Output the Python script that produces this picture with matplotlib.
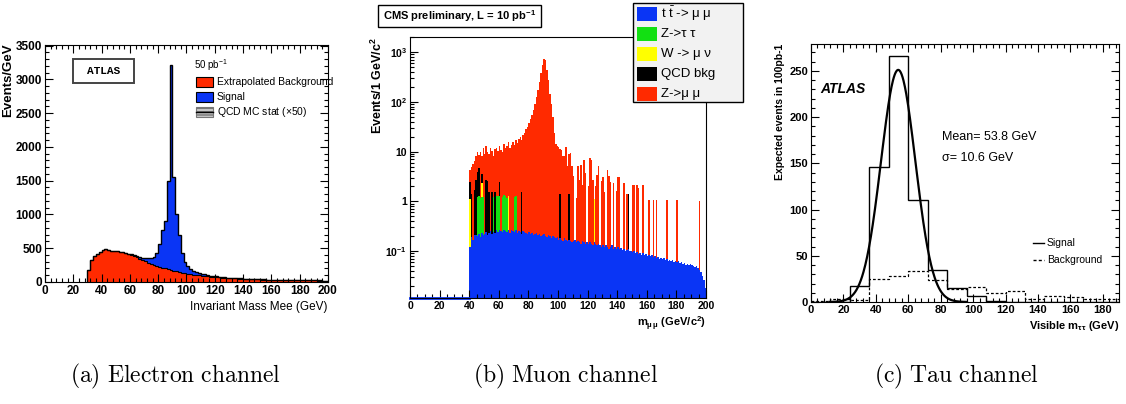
import numpy as np
import matplotlib
matplotlib.use('Agg')
import matplotlib.pyplot as plt
from matplotlib.ticker import MultipleLocator, LogLocator, NullFormatter
from matplotlib.patches import Rectangle
from matplotlib.lines import Line2D

plt.rcParams['font.family'] = ['Liberation Sans', 'DejaVu Sans']
plt.rcParams['mathtext.fontset'] = 'custom'
plt.rcParams['mathtext.rm'] = 'Liberation Sans'
plt.rcParams['mathtext.it'] = 'Liberation Sans:italic'
plt.rcParams['mathtext.bf'] = 'Liberation Sans:bold'

# ---------------- data : (a) electron channel, 2 GeV bins from 30 GeV ----------------
a_bin_start = 30
a_bin_width = 2
bkg_a = [
    180, 330, 385, 420, 445, 470, 485, 470, 465, 458,
    452, 445, 438, 428, 415, 400, 385, 365, 345, 325,
    305, 288, 270, 255, 240, 226, 212, 200, 188, 177,
    167, 157, 148, 139, 131, 124, 117, 110, 104, 98,
    92, 87, 82, 78, 74, 70, 67, 64, 61, 58,
    56, 54, 52, 50, 48, 46, 44, 43, 41, 40,
    38, 37, 36, 35, 34, 33, 32, 31, 30, 29,
    28, 28, 27, 26, 26, 25, 25, 24, 24, 23,
    23, 22, 22, 21, 20]
sig_a = [
    0, 0, 0, 0, 0, 0, 0, 0, 0, 0,
    0, 0, 0, 0, 0, 8, 14, 20, 26, 34,
    45, 62, 85, 120, 190, 334, 560, 700, 1312, 3043,
    1383, 850, 552, 291, 169, 106, 73, 55, 44, 36,
    30, 25, 21, 18, 15, 13, 11, 10, 9, 8,
    7, 6, 6, 5, 5, 4, 4, 4, 3, 3,
    3, 3, 2, 2, 2, 2, 2, 2, 1, 1,
    1, 1, 1, 1, 1, 1, 1, 1, 1, 1,
    1, 1, 1, 1, 1]

# ---------------- data : (b) muon channel, 1 GeV bins 40..199 ----------------
b_bin_start = 40
ttbar_b = [
    0.12, 0.19, 0.17, 0.21, 0.21, 0.20, 0.22, 0.19, 0.23, 0.21,
    0.22, 0.24, 0.21, 0.23, 0.25, 0.22, 0.24, 0.23, 0.26, 0.24,
    0.27, 0.25, 0.24, 0.26, 0.25, 0.24, 0.26, 0.23, 0.27, 0.25,
    0.24, 0.26, 0.23, 0.25, 0.24, 0.22, 0.25, 0.24, 0.23, 0.22,
    0.24, 0.22, 0.23, 0.21, 0.22, 0.23, 0.21, 0.22, 0.20, 0.21,
    0.22, 0.20, 0.19, 0.21, 0.20, 0.18, 0.20, 0.19, 0.18, 0.19,
    0.17, 0.18, 0.17, 0.16, 0.18, 0.17, 0.16, 0.17, 0.16, 0.15,
    0.16, 0.17, 0.15, 0.16, 0.15, 0.14, 0.16, 0.15, 0.14, 0.15,
    0.14, 0.15, 0.14, 0.13, 0.15, 0.14, 0.13, 0.14, 0.13, 0.12,
    0.13, 0.12, 0.13, 0.12, 0.11, 0.12, 0.13, 0.11, 0.12, 0.11,
    0.12, 0.11, 0.115, 0.105, 0.11, 0.10, 0.105, 0.11, 0.098, 0.10,
    0.095, 0.10, 0.09, 0.095, 0.088, 0.092, 0.085, 0.09, 0.082, 0.086,
    0.08, 0.084, 0.078, 0.082, 0.075, 0.079, 0.072, 0.076, 0.07, 0.074,
    0.068, 0.072, 0.066, 0.07, 0.064, 0.067, 0.062, 0.066, 0.06, 0.063,
    0.06, 0.062, 0.057, 0.06, 0.055, 0.058, 0.053, 0.056, 0.052, 0.054,
    0.052, 0.05, 0.048, 0.05, 0.046, 0.042, 0.038, 0.032, 0.026, 0.018]
ztt_bins = [45, 46, 47, 48, 49, 56, 58, 59, 60, 62, 63, 64, 65, 70, 71]
ztt_vals = [1.0, 1.05, 0.95, 1.0, 1.0, 1.0, 1.0, 1.05, 1.0, 1.0, 1.05, 1.0, 0.95, 1.0, 1.0]
wmn_bins = [40, 48, 66, 124]
wmn_vals = [1.0, 1.05, 1.0, 0.95]
qcd_bins = [40, 41, 43, 44, 45, 46, 48, 51, 52, 53, 55, 57, 60, 75, 101, 107, 147]
qcd_vals = [1.3, 1.2, 1.5, 2.5, 2.7, 3.3, 1.2, 2.4, 2.3, 1.3, 1.3, 1.3, 1.2, 1.3, 1.25, 1.25, 1.3]
zmm_low = [
    1.8, 3.6, 5.5, 4.8, 5.3, 6.1, 4.0, 8.5, 4.5, 10.5,
    8.5, 10.4, 7.5, 7.5, 11.5, 8.5, 7.0, 9.5, 10.5, 9.0,
    10.6, 10.5, 8.5, 13, 10.5, 12, 14, 11.5, 13.5, 15.5,
    12, 16, 14.5, 17.5, 19.5, 15.5, 21.5, 23.5, 27.5, 31.5,
    37.5, 44.5, 54.5, 69.5, 90, 125, 175, 250, 370, 540,
    730, 680, 430, 270, 145, 92, 50, 23, 14, 13,
    12, 10, 10.5, 8, 7.8, 12, 4.9, 7.5, 9, 5]
zmm_hi_bins = [110, 112, 113, 114, 115, 116, 117, 118, 120, 121, 122, 123, 125, 126, 127,
               129, 130, 131, 133, 134, 135, 137, 139, 140, 141, 144, 146, 150, 151, 153,
               154, 157, 161, 164, 166, 173, 180, 195]
zmm_hi_vals = [3.0, 1.0, 4.9, 2.5, 5.3, 2.0, 6.7, 3.6, 1.9, 7.2, 6.7, 2.5, 1.9, 3.3, 4.9,
               2.4, 3.0, 1.4, 4.2, 3.1, 2.3, 2.2, 1.5, 3.0, 2.9, 2.2, 1.3, 2.0, 2.0, 2.0,
               1.8, 2.0, 1.0, 1.0, 1.0, 1.0, 1.0, 0.95]
b_labels = ['t $\\bar{\\mathrm{t}}$ -> μ μ', 'Z->τ τ', 'W -> μ ν', 'QCD bkg', 'Z->μ μ']

# ---------------- data : (c) tau channel, 12 GeV bins from 0 ----------------
c_bin_width = 12
sig_c = [0, 0.5, 17, 146, 266, 110, 35, 15, 7, 1, 0.5, 0.5, 0.3, 0.3, 0.2, 0.2]
bkg_c = [1, 3, 2, 25, 28, 33, 24, 14, 16, 10, 12, 3, 7, 5.5, 3.5, 3]
fit_mean, fit_sigma, fit_amp = 53.8, 10.6, 251.0

# ---------------- style ----------------
RED = '#ff2a00'
BLUE = '#0a35f5'
GREEN = '#12e012'
YELLOW = '#ffff00'
W, H = 1126, 404
fig = plt.figure(figsize=(W / 100, H / 100), dpi=100)


def add_ax(l, t, r, b):
    return fig.add_axes([l / W, 1 - b / H, (r - l) / W, (b - t) / H])


def fx(x):
    return x / W


def fy(y):
    return 1 - y / H


def style_ticks(ax, size, four=True, pad=2.5):
    ax.tick_params(which='both', direction='in', top=four, right=four, width=0.8, pad=pad)
    ax.tick_params(which='major', length=6)
    ax.tick_params(which='minor', length=3)
    for lab in ax.get_xticklabels() + ax.get_yticklabels():
        lab.set_fontweight('bold')
        lab.set_fontsize(size)


# ================= (a) =================
ax = add_ax(45, 45, 328, 282)
bkg = np.array(bkg_a, float)
sig = np.array(sig_a, float)
edges = a_bin_start + a_bin_width * np.arange(len(bkg) + 1)
tot = bkg + sig
ax.stairs(bkg, edges, baseline=0, fill=True, color=RED, lw=0)
ax.stairs(tot, edges, baseline=bkg, fill=True, color=BLUE, lw=0)
ax.stairs(bkg, edges, baseline=None, color='k', lw=0.8)
ax.stairs(tot, edges, baseline=0, color='k', lw=1.0)
ax.set_xlim(0, 200)
ax.set_ylim(0, 3510)
ax.set_xticks(np.arange(0, 201, 20))
ax.set_yticks(np.arange(0, 3501, 500))
ax.xaxis.set_minor_locator(MultipleLocator(4))
ax.yaxis.set_minor_locator(MultipleLocator(100))
style_ticks(ax, 8.5, pad=2)
ax.set_ylabel('Events/GeV', loc='top', fontsize=9.5, fontweight='bold')
ax.yaxis.set_label_coords(-0.108, 1.008)
ax.set_xlabel('Invariant Mass Mee (GeV)', loc='right', fontsize=8.5)
ax.xaxis.set_label_coords(1.0, -0.08)

fig.add_artist(Rectangle((fx(73), fy(83)), 61 / W, 24 / H, transform=fig.transFigure,
                         fc='white', ec='#444444', lw=1.4))
fig.text(fx(103.5), fy(71), 'ATLAS', family='Liberation Mono', fontweight='bold',
         fontsize=8, ha='center', va='center')
fig.text(fx(194), fy(65), '50 pb$^{-1}$', fontsize=7, ha='left', va='center')
leg_a = [('Extrapolated Background', RED, None), ('Signal', BLUE, None),
         ('QCD MC stat ($\\times$50)', '#c8c8c8', '-----')]
for i, (lab, col, hatch) in enumerate(leg_a):
    yc = 82 + 15 * i
    fig.add_artist(Rectangle((fx(196), fy(yc + 5)), 17 / W, 10 / H, transform=fig.transFigure,
                             fc=col, ec='k' if hatch is None else '#777777', lw=0.8,
                             hatch=hatch))
    if hatch is not None:
        fig.add_artist(Line2D([fx(196), fx(213)], [fy(yc), fy(yc)], color='k', lw=1,
                              transform=fig.transFigure))
    fig.text(fx(217), fy(yc), lab, fontsize=7.5, ha='left', va='center')

# ================= (b) =================
ax = add_ax(410, 37, 706, 298)
n = len(ttbar_b)
edges = b_bin_start + np.arange(n + 1)


def sparse(bins, vals):
    arr = np.zeros(n)
    arr[np.array(bins) - b_bin_start] = vals
    return arr


ttb = np.array(ttbar_b)
ztt = sparse(ztt_bins, ztt_vals)
wmn = sparse(wmn_bins, wmn_vals)
qcd = sparse(qcd_bins, qcd_vals)
zmm = sparse(zmm_hi_bins, zmm_hi_vals)
zmm[:len(zmm_low)] = zmm_low
ylo, yhi = 0.0114, 2000
c1 = ttb
c2 = c1 + ztt
c3 = c2 + wmn
c4 = c3 + qcd
c5 = c4 + zmm
ax.set_yscale('log')
ax.stairs(c5, edges, baseline=c4, fill=True, color=RED, lw=0)
ax.stairs(c4, edges, baseline=c3, fill=True, color='k', lw=0)
ax.stairs(c3, edges, baseline=c2, fill=True, color=YELLOW, lw=0)
ax.stairs(c2, edges, baseline=c1, fill=True, color=GREEN, lw=0)
ax.stairs(c1, edges, baseline=1e-3, fill=True, color=BLUE, lw=0)
ax.plot([0, edges[0]], [ylo, ylo], color=BLUE, lw=2, clip_on=False)
ax.set_xlim(0, 200)
ax.set_ylim(ylo, yhi)
ax.set_xticks(np.arange(0, 201, 20))
ax.xaxis.set_minor_locator(MultipleLocator(5))
ax.set_yticks([0.1, 1, 10, 100, 1000])
ax.set_yticklabels(['$\\mathbf{10^{-1}}$', '1', '10', '$\\mathbf{10^{2}}$', '$\\mathbf{10^{3}}$'])
ax.yaxis.set_minor_locator(LogLocator(base=10, subs=np.arange(2, 10), numticks=20))
ax.yaxis.set_minor_formatter(NullFormatter())
style_ticks(ax, 7.5, four=False, pad=2)
for lab in ax.get_yticklabels():
    lab.set_fontsize(7.5)
ax.set_ylabel('Events/1 GeV/c$^{\\mathbf{2}}$', loc='top', fontsize=9, fontweight='bold')
ax.yaxis.set_label_coords(-0.085, 1.0)
ax.set_xlabel('m$_{\\mathbf{\\mu\\,\\mu}}$ (GeV/c$^{\\mathbf{2}}$)', loc='right', fontsize=8,
              fontweight='bold')
ax.xaxis.set_label_coords(1.0, -0.066)

fig.add_artist(Rectangle((fx(378), fy(27)), 163 / W, 22 / H, transform=fig.transFigure,
                         fc='white', ec='k', lw=1.0))
fig.text(fx(459.5), fy(16), 'CMS preliminary, L = 10 pb$^{\\mathbf{-1}}$', fontsize=8,
         fontweight='bold', ha='center', va='center')
fig.add_artist(Rectangle((fx(633), fy(102)), 110 / W, 99 / H, transform=fig.transFigure,
                         fc='#f2f2f2', ec='k', lw=1.0, zorder=5))
for i, (lab, col) in enumerate(zip(b_labels, [BLUE, GREEN, YELLOW, 'k', RED])):
    yc = 14 + 20 * i
    fig.add_artist(Rectangle((fx(637), fy(yc + 7)), 20 / W, 14 / H, transform=fig.transFigure,
                             fc=col, ec='none', zorder=6))
    fig.text(fx(661), fy(yc), lab, fontsize=9.5, ha='left', va='center', zorder=7)

# ================= (c) =================
ax = add_ax(811, 44, 1119, 302)
edges = c_bin_width * np.arange(len(sig_c) + 1)
ax.stairs(sig_c, edges, baseline=0, color='k', lw=1.0)
ax.stairs(bkg_c, edges, baseline=None, color='k', lw=0.9, ls=(0, (2.2, 1.6)))
xg = np.linspace(fit_mean - 4 * fit_sigma, fit_mean + 4 * fit_sigma, 300)
ax.plot(xg, fit_amp * np.exp(-0.5 * ((xg - fit_mean) / fit_sigma) ** 2), color='k', lw=1.6)
ax.set_xlim(0, 190)
ax.set_ylim(0, 279)
ax.set_xticks(np.arange(0, 181, 20))
ax.set_yticks(np.arange(0, 251, 50))
ax.xaxis.set_minor_locator(MultipleLocator(4))
ax.yaxis.set_minor_locator(MultipleLocator(10))
style_ticks(ax, 8, pad=2)
ax.set_ylabel('Expected events in 100pb-1', loc='top', fontsize=7.5, fontweight='bold')
ax.yaxis.set_label_coords(-0.084, 1.0)
ax.set_xlabel('Visible m$_{\\mathbf{\\tau\\tau}}$ (GeV)', loc='right', fontsize=8,
              fontweight='bold')
ax.xaxis.set_label_coords(1.0, -0.064)
ax.text(0.03, 0.826, 'ATLAS', transform=ax.transAxes, fontsize=10, fontweight='bold',
        style='italic', va='center')
ax.text(0.425, 0.64, 'Mean= 53.8 GeV', transform=ax.transAxes, fontsize=9, va='center')
ax.text(0.425, 0.558, 'σ= 10.6 GeV', transform=ax.transAxes, fontsize=9, va='center')
for i, (lab, ls) in enumerate([('Signal', '-'), ('Background', (0, (2.2, 1.6)))]):
    yy = 0.229 - 0.066 * i
    ax.plot([0.721, 0.755], [yy, yy], transform=ax.transAxes, color='k', lw=1.0, ls=ls)
    ax.text(0.766, yy, lab, transform=ax.transAxes, fontsize=7.5, va='center')

# ================= captions =================
for xc, cap in [(175, r'$\mathrm{(a)\ Electron\ channel}$'),
                (566, r'$\mathrm{(b)\ Muon\ channel}$'),
                (956, r'$\mathrm{(c)\ Tau\ channel}$')]:
    fig.text(fx(xc), fy(376), cap, math_fontfamily='cm', fontsize=17, ha='center',
             va='center')

fig.savefig('out.png', dpi=100)
